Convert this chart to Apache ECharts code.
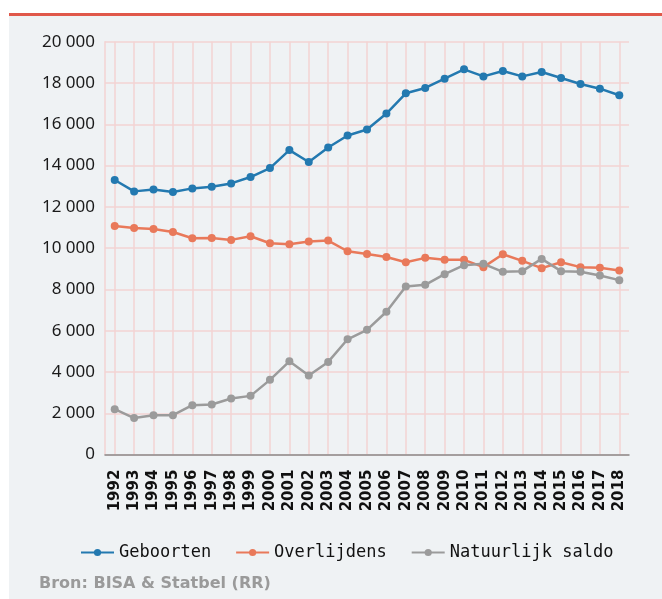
<!DOCTYPE html>
<html>
<head>
<meta charset="utf-8">
<script src="https://cdn.jsdelivr.net/npm/echarts@6/dist/echarts.min.js"></script>
<style>
  html, body { margin: 0; padding: 0; background: #fff; }
  #main { width: 662px; height: 599px; }
</style>
</head>
<body>
<div id="main"></div>
<script>
// jaren en reeksen
var years = ['1992','1993','1994','1995','1996','1997','1998','1999','2000','2001','2002','2003','2004',
  '2005','2006','2007','2008','2009','2010','2011','2012','2013','2014','2015','2016','2017','2018'];
var geboorten = [13300, 12750, 12845, 12720, 12895, 12975, 13135, 13445, 13880, 14750, 14170, 14875, 15455,
  15745, 16520, 17500, 17760, 18210, 18660, 18320, 18580, 18320, 18530, 18240, 17950, 17725, 17405];
var overlijdens = [11075, 10980, 10930, 10785, 10480, 10495, 10400, 10575, 10235, 10190, 10320, 10365, 9850,
  9715, 9570, 9320, 9530, 9435, 9435, 9080, 9705, 9385, 9030, 9320, 9080, 9050, 8920];
var saldo = [2200, 1770, 1910, 1910, 2395, 2430, 2720, 2845, 3620, 4520, 3830, 4490, 5585,
  6045, 6920, 8145, 8225, 8740, 9175, 9240, 8855, 8885, 9480, 8885, 8855, 8675, 8450];
var legendNames = ['Geboorten', 'Overlijdens', 'Natuurlijk saldo'];
var colors = ['#2379b0', '#e9795a', '#9b9b9b'];

var chart = echarts.init(document.getElementById('main'));

function makeSeries(name, data, color) {
  return {
    name: name,
    type: 'line',
    data: data,
    symbol: 'circle',
    symbolSize: 8,
    lineStyle: { width: 2.5, color: color },
    itemStyle: { color: color },
    emphasis: { disabled: true }
  };
}

chart.setOption({
  animation: false,
  backgroundColor: '#fff',
  graphic: [
    { type: 'rect', left: 9, top: 16, shape: { width: 653, height: 583 }, style: { fill: '#eff2f4' }, z: -10 },
    { type: 'rect', left: 9, top: 13, shape: { width: 653, height: 3 }, style: { fill: '#e0584a' }, z: -9 },
    {
      type: 'text', left: 39, top: 576,
      style: { text: 'Bron: BISA & Statbel (RR)', fill: '#9a9a9a', font: 'bold 16px "DejaVu Sans"' }
    }
  ],
  grid: { left: 105, right: 33, top: 41.7, bottom: 144.4 },
  legend: {
    data: legendNames,
    left: 75,
    top: 539,
    itemWidth: 33,
    itemHeight: 9,
    itemGap: 24,
    textStyle: { fontFamily: 'DejaVu Sans Mono', fontSize: 17, color: '#111' }
  },
  xAxis: {
    type: 'category',
    data: years,
    boundaryGap: true,
    axisLine: { show: true, lineStyle: { color: '#8a8a8a', width: 1.5 } },
    axisTick: { show: false },
    axisLabel: {
      interval: 0,
      rotate: 90,
      margin: 15,
      fontFamily: 'DejaVu Sans',
      fontWeight: 'bold',
      fontSize: 15,
      color: '#111'
    },
    splitLine: { show: true, alignWithLabel: true, lineStyle: { color: '#f3d3d3', width: 1.5 } }
  },
  yAxis: {
    type: 'value',
    min: 0,
    max: 20000,
    interval: 2000,
    axisLine: { show: true, lineStyle: { color: '#f3d3d3', width: 1.5 } },
    axisTick: { show: false },
    axisLabel: {
      margin: 10,
      fontFamily: 'Noto Sans',
      fontSize: 17,
      color: '#1a1a1a',
      formatter: function (v) {
        return String(v).replace(/\B(?=(\d{3})+(?!\d))/g, ' ');
      }
    },
    splitLine: { show: true, lineStyle: { color: '#f3d3d3', width: 1.5 } }
  },
  series: [
    makeSeries(legendNames[0], geboorten, colors[0]),
    makeSeries(legendNames[1], overlijdens, colors[1]),
    makeSeries(legendNames[2], saldo, colors[2])
  ]
});
</script>
</body>
</html>
